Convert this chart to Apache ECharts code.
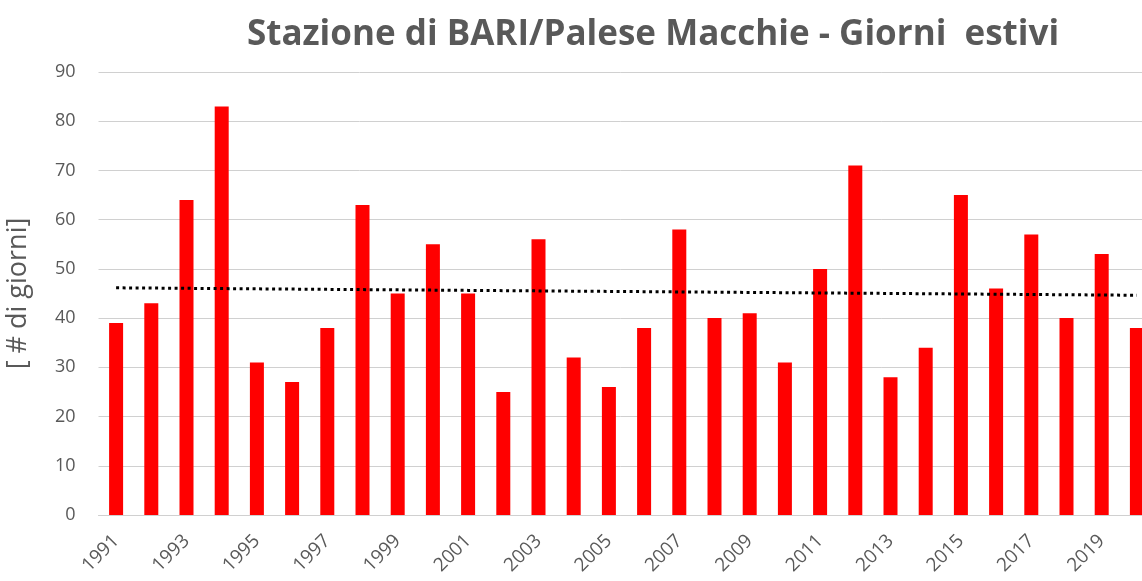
<!DOCTYPE html>
<html>
<head>
<meta charset="utf-8">
<script src="https://cdn.jsdelivr.net/npm/echarts@6/dist/echarts.min.js"></script>
<style>html,body{margin:0;padding:0;background:#fff;overflow:hidden}#c{width:1142px;height:581px}</style>
</head>
<body>
<div id="c"></div>
<script>
const years = ['1991','1992','1993','1994','1995','1996','1997','1998','1999','2000',
  '2001','2002','2003','2004','2005','2006','2007','2008','2009','2010',
  '2011','2012','2013','2014','2015','2016','2017','2018','2019','2020'];
const summerDays = [39,43,64,83,31,27,38,63,45,55,
  45,25,56,32,26,38,58,40,41,31,
  50,71,28,34,65,46,57,40,53,38];
const yTicks = [0,10,20,30,40,50,60,70,80,90];

// linear trend (least squares) computed from the data
const n = summerDays.length;
const mx = (n - 1) / 2;
const my = summerDays.reduce((a, b) => a + b, 0) / n;
let sxy = 0, sxx = 0;
summerDays.forEach((v, i) => { sxy += (i - mx) * (v - my); sxx += (i - mx) * (i - mx); });
const slope = sxy / sxx;
const trend = summerDays.map((v, i) => +(my + slope * (i - mx)).toFixed(3));

const chart = echarts.init(document.getElementById('c'));
chart.setOption({
  animation: false,
  backgroundColor: '#fff',
  title: {
    text: 'Stazione di BARI/Palese Macchie - Giorni  estivi',
    left: 648, top: 13, textAlign: 'center',
    textStyle: { fontFamily: 'Open Sans', fontWeight: 'bold', fontSize: 35, color: '#595959' }
  },
  grid: { left: 98.5, width: 1056, top: 72, height: 443, containLabel: false, outerBoundsMode: 'none' },
  xAxis: {
    type: 'category',
    data: years,
    boundaryGap: true,
    axisLine: { show: true, lineStyle: { color: '#d0d0d0', width: 1 } },
    axisTick: { show: false },
    axisLabel: {
      interval: 1, rotate: 45, color: '#595959', fontSize: 19,
      fontFamily: 'Open Sans', margin: 23
    }
  },
  yAxis: {
    type: 'value',
    min: yTicks[0], max: yTicks[yTicks.length - 1], interval: 10,
    name: '[ # di giorni]',
    nameLocation: 'middle',
    nameGap: 67,
    nameRotate: 90,
    nameTextStyle: { color: '#595959', fontSize: 27, fontFamily: 'Open Sans' },
    axisLine: { show: false },
    axisTick: { show: false },
    axisLabel: { color: '#595959', fontSize: 18, fontFamily: 'Open Sans', margin: 23 },
    splitLine: { show: true, lineStyle: { color: '#d0d0d0', width: 1 } }
  },
  series: [
    {
      type: 'bar',
      data: summerDays,
      barWidth: 14,
      itemStyle: { color: '#ff0000' },
      z: 2
    },
    {
      type: 'line',
      data: trend,
      symbol: 'none',
      silent: true,
      lineStyle: { color: '#000', width: 3, type: [3, 3.5], cap: 'butt' },
      z: 3
    }
  ]
});
</script>
</body>
</html>
